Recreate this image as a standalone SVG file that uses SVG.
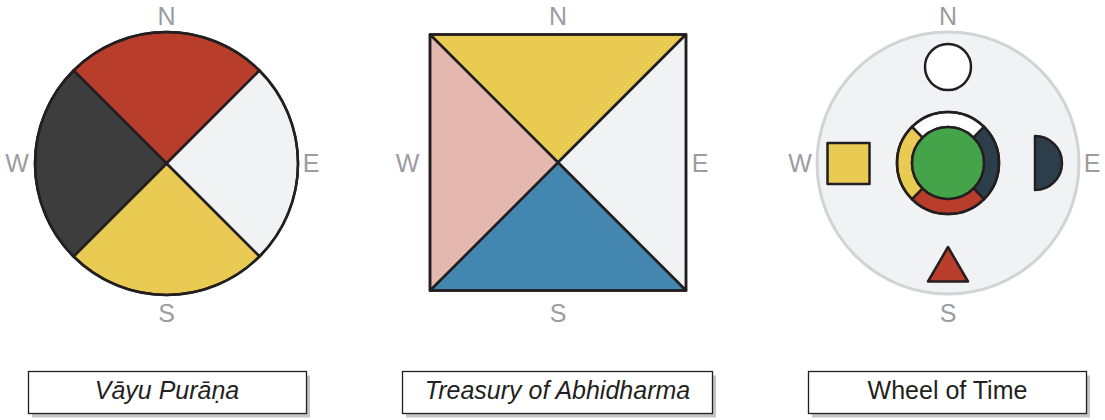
<svg xmlns="http://www.w3.org/2000/svg" width="1105" height="420" viewBox="0 0 1105 420">
<style>
.dir{font-family:"Liberation Sans",Arial,sans-serif;font-size:25px;fill:#9b9ca0;text-anchor:middle}
.ln{stroke:#231f20;stroke-width:2.5;stroke-linejoin:round}
.cap{font-family:"Liberation Sans",Arial,sans-serif;font-size:25px;fill:#231f20;text-anchor:middle}
.box{fill:#ffffff;stroke:#231f20;stroke-width:1.3}
.shadow{fill:#c4c4c4}
</style>
<rect width="1105" height="420" fill="#ffffff"/>

<g id="vayu-purana">
  <path class="ln" fill="#b93d2b" d="M166.5 163.5 L73.5 70.5 A131.5 131.5 0 0 1 259.5 70.5 Z"/>
  <path class="ln" fill="#f1f2f4" d="M166.5 163.5 L259.5 70.5 A131.5 131.5 0 0 1 259.5 256.5 Z"/>
  <path class="ln" fill="#e9ca52" d="M166.5 163.5 L259.5 256.5 A131.5 131.5 0 0 1 73.5 256.5 Z"/>
  <path class="ln" fill="#3d3d3d" d="M166.5 163.5 L73.5 256.5 A131.5 131.5 0 0 1 73.5 70.5 Z"/>
  <circle cx="166.5" cy="163.5" r="131.5" fill="none" class="ln"/>
  <text class="dir" x="166.5" y="25">N</text>
  <text class="dir" x="17" y="172">W</text>
  <text class="dir" x="311" y="172">E</text>
  <text class="dir" x="166.5" y="322">S</text>
</g>

<g id="treasury">
  <path class="ln" fill="#e9ca52" d="M430 34.5 L686 34.5 L558 162.5 Z"/>
  <path class="ln" fill="#f1f2f4" d="M686 34.5 L686 290.5 L558 162.5 Z"/>
  <path class="ln" fill="#4386b0" d="M686 290.5 L430 290.5 L558 162.5 Z"/>
  <path class="ln" fill="#e4b8af" d="M430 290.5 L430 34.5 L558 162.5 Z"/>
  <rect x="430" y="34.5" width="256" height="256" fill="none" class="ln"/>
  <text class="dir" x="558" y="25">N</text>
  <text class="dir" x="407.5" y="172">W</text>
  <text class="dir" x="700" y="172">E</text>
  <text class="dir" x="558" y="322">S</text>
</g>

<g id="wheel-of-time">
  <circle cx="948" cy="163" r="131" fill="#f1f2f4" stroke="#d2d3d5" stroke-width="3"/>
  <circle cx="948" cy="67" r="23" fill="#ffffff" class="ln"/>
  <rect x="827.5" y="143" width="42" height="41" fill="#e9ca52" class="ln"/>
  <path class="ln" fill="#2c3e4a" d="M1035 136 A27 27 0 0 1 1035 190 Z"/>
  <path class="ln" fill="#b93d2b" d="M948 247 L968 281.5 L928 281.5 Z"/>
  <path class="ln" fill="#ffffff" d="M911.94 126.94 A51 51 0 0 1 984.06 126.94 L973.46 137.54 A36 36 0 0 0 922.54 137.54 Z"/>
  <path class="ln" fill="#2c3e4a" d="M984.06 126.94 A51 51 0 0 1 984.06 199.06 L973.46 188.46 A36 36 0 0 0 973.46 137.54 Z"/>
  <path class="ln" fill="#b93d2b" d="M984.06 199.06 A51 51 0 0 1 911.94 199.06 L922.54 188.46 A36 36 0 0 0 973.46 188.46 Z"/>
  <path class="ln" fill="#e9ca52" d="M911.94 199.06 A51 51 0 0 1 911.94 126.94 L922.54 137.54 A36 36 0 0 0 922.54 188.46 Z"/>
  <circle cx="948" cy="163" r="36" fill="#45a349" class="ln"/>
  <circle cx="948" cy="163" r="51" fill="none" class="ln"/>
  <text class="dir" x="948" y="25">N</text>
  <text class="dir" x="800" y="172">W</text>
  <text class="dir" x="1092" y="172">E</text>
  <text class="dir" x="948" y="322">S</text>
</g>

<g id="label-vayu">
  <rect class="shadow" x="32" y="375.5" width="278" height="42"/>
  <rect class="box" x="28.5" y="371.5" width="278" height="42"/>
  <text class="cap" x="167" y="399" font-style="italic">Vāyu Purāṇa</text>
</g>
<g id="label-treasury">
  <rect class="shadow" x="406" y="375.5" width="310" height="42"/>
  <rect class="box" x="402.5" y="371.5" width="310" height="42"/>
  <text class="cap" x="557.5" y="399" font-style="italic">Treasury of Abhidharma</text>
</g>
<g id="label-wheel">
  <rect class="shadow" x="812" y="375.5" width="278" height="42"/>
  <rect class="box" x="808.5" y="371.5" width="278" height="42"/>
  <text class="cap" x="947.5" y="399">Wheel of Time</text>
</g>
<g id="connectors"/>
</svg>
